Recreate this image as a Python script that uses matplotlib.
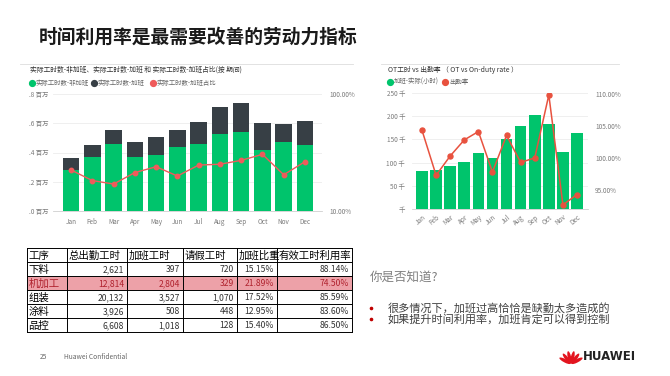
import matplotlib
matplotlib.use("Agg")
import matplotlib.pyplot as plt
from matplotlib.patches import Rectangle, Ellipse
import numpy as np

plt.rcParams['font.family'] = ['Noto Sans CJK SC', 'DejaVu Sans']

# ---------------- data ----------------
months = ["Jan", "Feb", "Mar", "Apr", "May", "Jun", "Jul", "Aug", "Sep", "Oct", "Nov", "Dec"]
# left chart (millions)
non_ot = [0.280, 0.369, 0.458, 0.369, 0.383, 0.440, 0.458, 0.529, 0.538, 0.417, 0.474, 0.451]
total_hours = [0.360, 0.454, 0.552, 0.470, 0.506, 0.552, 0.611, 0.709, 0.741, 0.602, 0.597, 0.615]
ot_share = [22.4, 18.2, 17.0, 21.3, 23.9, 19.9, 24.7, 25.1, 27.1, 30.5, 20.4, 26.4]
left_yticks = [0.0, 0.2, 0.4, 0.6, 0.8]
left_yticklabels = [".0 百万", ".2 百万", ".4 百万", ".6 百万", ".8 百万"]
# right chart
ot_hours_k = [81, 83, 93, 101, 121, 110, 151, 178, 202, 184, 122, 163]
duty_rate = [104.3, 97.3, 100.3, 102.8, 104.1, 97.8, 103.5, 99.3, 100.0, 109.8, 92.7, 94.3]
right_yticks = [0, 50, 100, 150, 200, 250]
right_yticklabels = ["千", "50 千", "100 千", "150 千", "200 千", "250 千"]
rate_ticks = [95, 100, 105, 110]
# table
table_header = ["工序", "总出勤工时", "加班工时", "请假工时", "加班比重", "有效工时利用率"]
processes = ["下料", "机加工", "组装", "涂料", "品控"]
total_att = ["2,621", "12,814", "20,132", "3,926", "6,608"]
ot_col = ["397", "2,804", "3,527", "508", "1,018"]
leave_col = ["720", "329", "1,070", "448", "128"]
ot_ratio = ["15.15%", "21.89%", "17.52%", "12.95%", "15.40%"]
util_rate = ["88.14%", "74.50%", "85.59%", "83.60%", "86.50%"]

W, H = 670, 376
fig = plt.figure(figsize=(W / 100, H / 100), dpi=100)
fig.patch.set_facecolor("white")


def rect(x0, y0, x1, y1):
    return [x0 / W, 1 - y1 / H, (x1 - x0) / W, (y1 - y0) / H]


GREEN = "#00C46C"
DARK = "#373F45"
RED1 = "#EF5B5B"
RED2 = "#E8523F"
TICK = "#7a7a7a"
GRID = "#ececec"

# ---------------- overlay axes for decorations ----------------
deco = fig.add_axes([0, 0, 1, 1])
deco.set_xlim(0, W)
deco.set_ylim(H, 0)
deco.axis("off")

# title
deco.text(39, 37, "时间利用率是最需要改善的劳动力指标", fontsize=13.5, fontweight="bold",
          color="#1a1a1a", va="center", ha="left")

# panel top lines
deco.plot([20, 353], [64, 64], color="#dddddd", lw=0.6)
deco.plot([381, 619], [64, 64], color="#dddddd", lw=0.6)

# ---------------- left chart ----------------
axL = fig.add_axes(rect(53, 94, 322, 211))
x = np.arange(len(months))
ot_part = [t - n for t, n in zip(total_hours, non_ot)]
axL.bar(x, non_ot, width=0.78, color=GREEN, zorder=2)
axL.bar(x, ot_part, bottom=non_ot, width=0.78, color=DARK, zorder=2)
axL.set_xlim(-0.85, 11.8)
axL.set_ylim(0, 0.8)
axL.set_yticks(left_yticks)
axL.set_yticklabels(left_yticklabels)
axL.set_xticks(x)
axL.set_xticklabels(months)
axL.tick_params(axis="both", length=0, labelsize=4.6, labelcolor=TICK)
axL.tick_params(axis="y", pad=3)
axL.tick_params(axis="x", pad=5)
axL.grid(axis="y", color=GRID, lw=0.6, zorder=0)
for s in ["top", "right", "left"]:
    axL.spines[s].set_visible(False)
axL.spines["bottom"].set_color("#cfcfcf")
axL.spines["bottom"].set_linewidth(0.6)

axL2 = axL.twinx()
axL2.set_yscale("log")
axL2.set_ylim(10, 100)
axL2.plot(x, ot_share, color=RED1, lw=1.0, marker="o", ms=3.2, zorder=3)
axL2.set_yticks([10, 100])
axL2.set_yticklabels(["10.00%", "100.00%"])
axL2.yaxis.set_minor_locator(matplotlib.ticker.NullLocator())
axL2.tick_params(axis="y", length=0, labelsize=4.6, labelcolor=TICK, pad=5)
for s in axL2.spines.values():
    s.set_visible(False)

deco.text(30, 70, "实际工时数-非加班、实际工时数-加班 和 实际工时数-加班占比(按 期间)",
          fontsize=4.9, color="#333333", va="center", ha="left")
legL = [("实际工时数-非加班", GREEN, 32), ("实际工时数-加班", DARK, 94), ("实际工时数-加班占比", RED1, 153)]
for lab, col, lx in legL:
    deco.plot([lx], [83], marker="o", ms=4.2, color=col, ls="none")
    deco.text(lx + 4, 83, lab, fontsize=4.6, color="#666666", va="center", ha="left")

# ---------------- right chart ----------------
axR = fig.add_axes(rect(412, 93, 588, 209))
axR.bar(x, ot_hours_k, width=0.83, color=GREEN, zorder=2)
axR.set_xlim(-0.71, 11.78)
axR.set_ylim(0, 250)
axR.set_yticks(right_yticks)
axR.set_yticklabels(right_yticklabels)
axR.set_xticks(x)
axR.set_xticklabels(months, rotation=40, ha="right", rotation_mode="anchor")
axR.tick_params(axis="both", length=0, labelsize=4.6, labelcolor=TICK)
axR.tick_params(axis="y", pad=5)
axR.tick_params(axis="x", pad=3)
axR.grid(axis="y", color=GRID, lw=0.6, zorder=0)
for s in ["top", "right", "left"]:
    axR.spines[s].set_visible(False)
axR.spines["bottom"].set_color("#cfcfcf")
axR.spines["bottom"].set_linewidth(0.6)

axR2 = axR.twinx()
axR2.set_ylim(92.05, 110.1)
axR2.plot(x, duty_rate, color=RED2, lw=1.1, marker="o", ms=3.6, zorder=3)
axR2.set_yticks(rate_ticks)
axR2.set_yticklabels([f"{v:.2f}%" for v in rate_ticks])
axR2.tick_params(axis="y", length=0, labelsize=4.6, labelcolor=TICK, pad=5)
for s in axR2.spines.values():
    s.set_visible(False)

deco.text(388, 70, "OT工时 vs 出勤率 （ OT vs On-duty rate ）", fontsize=4.9,
          color="#333333", va="center", ha="left")
legR = [("加班-实际(小时)", GREEN, 390), ("出勤率", RED2, 445)]
for lab, col, lx in legR:
    deco.plot([lx], [82], marker="o", ms=4.2, color=col, ls="none")
    deco.text(lx + 4, 82, lab, fontsize=4.6, color="#666666", va="center", ha="left")

# ---------------- table ----------------
col_edges = [27, 67, 127, 183, 237, 277, 352]
row_top = 248
row_h = 14
n_rows = len(processes) + 1
hi = processes.index("机加工")
deco.add_patch(Rectangle((col_edges[0], row_top + (hi + 1) * row_h), col_edges[-1] - col_edges[0],
                         row_h, facecolor="#EDA1A8", edgecolor="none", zorder=1))
for i in range(n_rows + 1):
    yy = row_top + i * row_h
    deco.plot([col_edges[0], col_edges[-1]], [yy, yy], color="black", lw=0.7, zorder=2)
for xx in col_edges:
    deco.plot([xx, xx], [row_top, row_top + n_rows * row_h], color="black", lw=0.7, zorder=2)
for j, h in enumerate(table_header):
    deco.text(col_edges[j] + 1.5, row_top + row_h / 2 + 0.5, h, fontsize=7.5, color="black",
              va="center", ha="left", zorder=3)
cols = [total_att, ot_col, leave_col, ot_ratio, util_rate]
for i, p in enumerate(processes):
    yc = row_top + (i + 1.5) * row_h + 0.5
    tc = "#B0222E" if i == hi else "black"
    nc = "#B0222E" if i == hi else "#333333"
    deco.text(col_edges[0] + 1.5, yc, p, fontsize=7.5, color=tc, va="center", ha="left", zorder=3)
    for j, c in enumerate(cols):
        deco.text(col_edges[j + 2] - 3, yc, c[i], fontsize=6.2, color=nc, va="center",
                  ha="right", zorder=3)

# ---------------- right text ----------------
deco.text(370, 277, "你是否知道?", fontsize=9, color="#808080", va="center", ha="left")
bullets = ["很多情况下，加班过高恰恰是缺勤太多造成的", "如果提升时间利用率，加班肯定可以得到控制"]
for k, b in enumerate(bullets):
    yb = 308 + k * 11
    deco.plot([371], [yb], marker="o", ms=1.6, color="#C00000", ls="none")
    deco.text(388, yb, b, fontsize=8, color="#404040", va="center", ha="left")

# ---------------- footer ----------------
deco.text(40, 357, "25", fontsize=4.8, color="#666666", va="center", ha="left")
deco.text(64, 357, "Huawei Confidential", fontsize=4.8, color="#666666", va="center", ha="left")

# HUAWEI logo (fan of petals)
cx, cy = 571, 364
angles = [-62, -38, -13, 13, 38, 62]
for a in angles:
    plen = 12.5
    th = np.deg2rad(a)
    d = plen * 0.55
    ex = cx + np.sin(th) * d
    ey = cy - np.cos(th) * d
    deco.add_patch(Ellipse((ex, ey), width=3.4, height=plen, angle=a,
                           facecolor="#E3151F", edgecolor="none"))
deco.text(583, 356, "HUAWEI", fontsize=8.5, fontweight="bold", color="#222222",
          va="center", ha="left", family=["DejaVu Sans"])

fig.savefig("out.png", dpi=100)
